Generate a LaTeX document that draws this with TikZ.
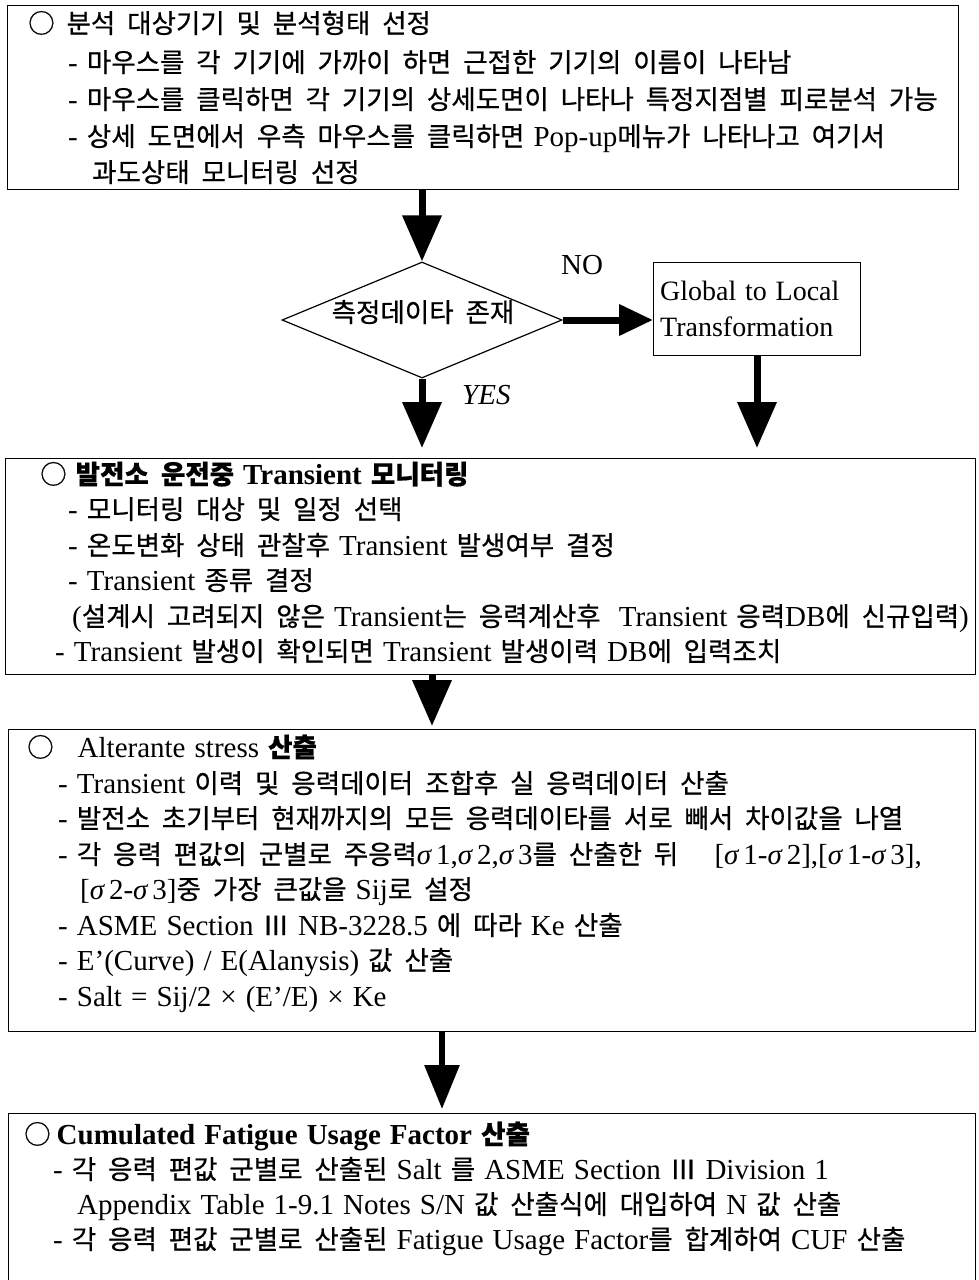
\documentclass[tikz,border=0pt]{standalone}
\usepackage{fontspec}
\setmainfont[WordSpace=1.25]{Liberation Serif}
\newfontfamily\krfont[WordSpace=2,FakeBold=0.6]{Noto Sans CJK KR}
\usetikzlibrary{arrows.meta,shapes.geometric}
\newcommand\K[1]{{\krfont\fontsize{26.5}{30}\selectfont #1}}
\newcommand\KB[1]{{\krfont\bfseries\fontsize{26.5}{30}\selectfont #1}}
\newcommand\sg{\textit{σ}\kern4pt}
\tikzset{
  box/.style={draw, line width=1.2pt, anchor=north west, inner sep=0pt},
  ln/.style={anchor=base west, inner sep=0pt, font=\fontsize{29}{32}\selectfont},
  arr/.style={line width=7pt, -{Triangle[width=38pt,length=46pt]}},
  arrno/.style={line width=7pt, -{Triangle[width=30pt,length=34pt]}},
  arrlast/.style={line width=6pt, -{Triangle[width=34pt,length=44pt]}},
}
\begin{document}
\begin{tikzpicture}[x=1pt,y=-1pt]
\useasboundingbox (0,0) rectangle (978,1280);
\clip (0,0) rectangle (978,1280);
% boxes
\node[box, minimum width=951pt, minimum height=184pt] (b1) at (7,5) {};
\node[box, minimum width=207pt, minimum height=93pt] (b2) at (653,262) {};
\node[box, minimum width=970pt, minimum height=216pt] (b3) at (5,458) {};
\node[box, minimum width=967pt, minimum height=302pt] (b4) at (8,729) {};
\node[box, minimum width=967pt, minimum height=220pt] (b5) at (8,1113) {};
\node[diamond, draw, line width=1.2pt, aspect=2.4, minimum width=280pt, minimum height=116pt, inner sep=0pt] (d) at (422,320) {};
\node[ln, anchor=base] (dtxt) at (423,322) {\K{측정데이타 존재}};
% arrow end points
\coordinate (t1) at (422,448);
\coordinate (t2) at (757,448);
\coordinate (t3) at (432,726);
\coordinate (t4) at (442,1109);
% arrows
\draw[arr] (b1.south -| d.north) -- (d.north);
\draw[arrno] (d.east) -- (b2.west |- d.east);
\draw[arr] (d.south) -- (t1);
\draw[arr] (b2.south -| t2) -- (t2);
\draw[arr] (b3.south -| t3) -- (t3);
\draw[arrlast] (b4.south -| t4) -- (t4);
% labels
\node[ln, anchor=base] (no) at (582,274) {NO};
\node[ln, anchor=base west] (yes) at (462,404) {\textit{YES}};
\node[ln, font=\fontsize{28}{32}\selectfont] (g1) at (660,300) {Global to Local};
\node[ln, font=\fontsize{28}{32}\selectfont] (g2) at (660,336) {Transformation};
% box 1
\node[ln] (a1) at (28,33) {\K{○ 분석 대상기기 및 분석형태 선정}};
\node[ln] (a2) at (68,72) {- \K{마우스를 각 기기에 가까이 하면 근접한 기기의 이름이 나타남}};
\node[ln] (a3) at (68,109) {- \K{마우스를 클릭하면 각 기기의 상세도면이 나타나 특정지점별 피로분석 가능}};
\node[ln] (a4) at (68,146) {- \K{상세 도면에서 우측 마우스를 클릭하면} Pop-up\K{메뉴가 나타나고 여기서}};
\node[ln] (a5) at (92,182) {\K{과도상태 모니터링 선정}};
% box 3
\node[ln] (c1) at (40,484) {\K{○}\hspace{9pt}\KB{발전소 운전중} \textbf{Transient} \KB{모니터링}};
\node[ln] (c2) at (68,519) {- \K{모니터링 대상 및 일정 선택}};
\node[ln] (c3) at (68,555) {- \K{온도변화 상태 관찰후} Transient \K{발생여부 결정}};
\node[ln] (c4) at (68,590) {- Transient \K{종류 결정}};
\node[ln] (c5) at (72,626) {(\K{설계시 고려되지 않은} Transient\K{는 응력계산후}\ \ Transient \K{응력}DB\K{에 신규입력})};
\node[ln] (c6) at (55,661) {- Transient \K{발생이 확인되면} Transient \K{발생이력} DB\K{에 입력조치}};
% box 4
\node[ln] (d1) at (27,757) {\K{○}\hspace{24pt}Alterante stress \KB{산출}};
\node[ln] (d2) at (58,793) {- Transient \K{이력 및 응력데이터 조합후 실 응력데이터 산출}};
\node[ln] (d3) at (58,828) {- \K{발전소 초기부터 현재까지의 모든 응력데이타를 서로 빼서 차이값을 나열}};
\node[ln] (d4) at (58,864) {- \K{각 응력 편값의 군별로 주응력}\sg1,\sg2,\sg3\K{를 산출한 뒤}\ \ \ \ [\sg1-\sg2],[\sg1-\sg3],};
\node[ln] (d5) at (80,899) {[\sg2-\sg3]\K{중 가장 큰값을} Sij\K{로 설정}};
\node[ln] (d6) at (58,935) {- ASME Section \K{Ⅲ} NB-3228.5 \K{에 따라} Ke \K{산출}};
\node[ln] (d7) at (58,970) {- E'(Curve) / E(Alanysis) \K{값 산출}};
\node[ln] (d8) at (58,1006) {- Salt = Sij/2 × (E'/E) × Ke};
% box 5
\node[ln] (e1) at (24,1144) {\K{○}\hspace{6pt}\textbf{Cumulated Fatigue Usage Factor} \KB{산출}};
\node[ln] (e2) at (53,1179) {- \K{각 응력 편값 군별로 산출된} Salt \K{를} ASME Section \K{Ⅲ} Division 1};
\node[ln] (e3) at (77,1214) {Appendix Table 1-9.1 Notes S/N \K{값 산출식에 대입하여} N \K{값 산출}};
\node[ln] (e4) at (53,1249) {- \K{각 응력 편값 군별로 산출된} Fatigue Usage Factor\K{를 합계하여} CUF \K{산출}};
\end{tikzpicture}
\end{document}
